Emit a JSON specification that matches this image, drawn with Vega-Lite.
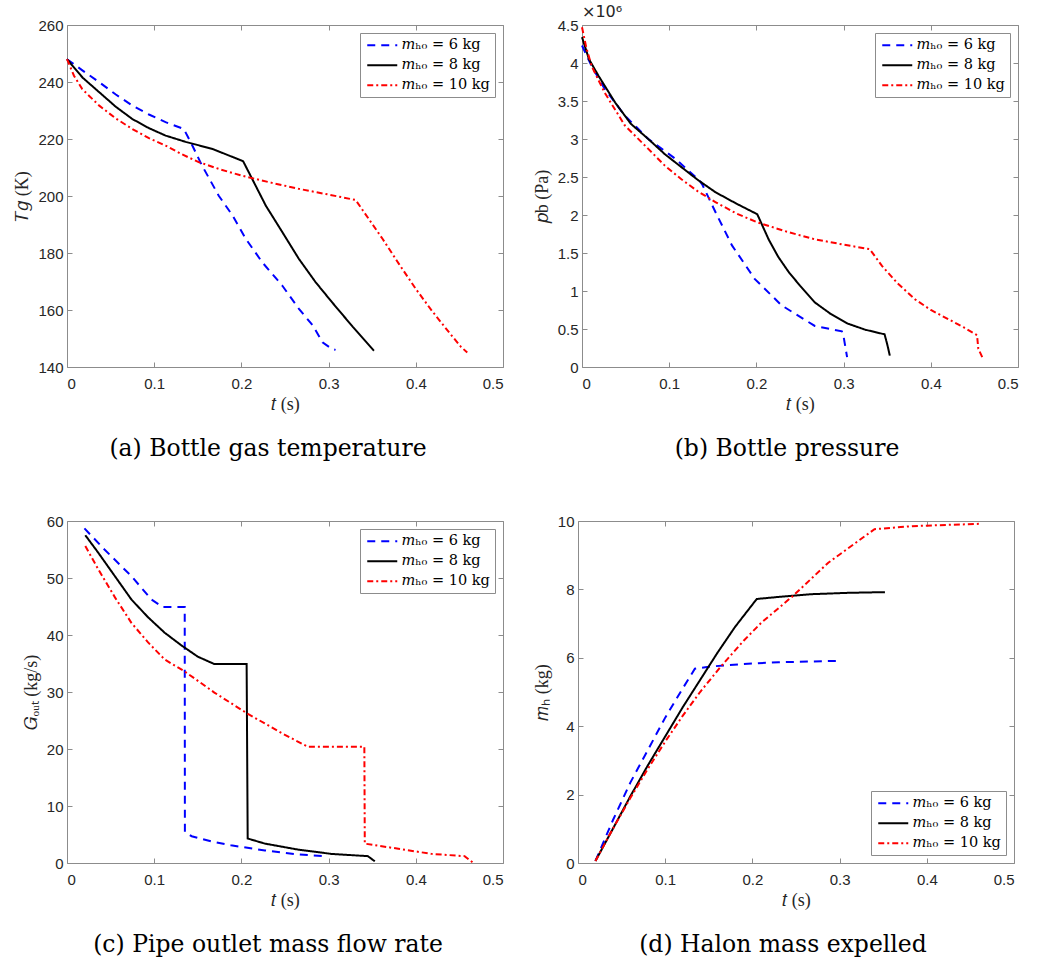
{
  "$schema": "https://vega.github.io/schema/vega-lite/v6.json",
  "background": "white",
  "padding": {"left": 13, "top": 3, "right": 5, "bottom": 5},
  "config": {
    "view": {"stroke": "#8c8c8c", "strokeWidth": 1},
    "axis": {"domain": false, "grid": false, "labelFont": "Liberation Sans", "labelFontSize": 15, "labelColor": "#262626", "tickColor": "#8c8c8c", "tickSize": -5, "tickWidth": 1, "titleFont": "Liberation Serif", "titleFontWeight": "normal", "titleFontSize": 18, "titleColor": "#262626"},
    "axisX": {"labelPadding": 14, "titlePadding": 4},
    "axisY": {"labelPadding": 9, "titlePadding": 6},
    "legend": {"title": null, "offset": 8, "strokeColor": "#8c8c8c", "fillColor": "white", "padding": 5, "symbolType": "M-1,0H5", "symbolSize": 100, "symbolStrokeWidth": 2, "labelFont": "DejaVu Serif", "labelFontSize": 14.5, "labelColor": "#000000", "rowPadding": 5, "labelOffset": 22},
    "title": {"font": "DejaVu Serif", "fontSize": 23.5, "fontWeight": "normal", "color": "#000000", "orient": "bottom", "offset": 24}
  },
  "datasets": {
    "a": [
      {"m": "6 kg", "i": 0, "t": 0, "T": 248}, {"m": "6 kg", "i": 1, "t": 0.018, "T": 244}, {"m": "6 kg", "i": 2, "t": 0.037, "T": 239.9}, {"m": "6 kg", "i": 3, "t": 0.056, "T": 235.6}, {"m": "6 kg", "i": 4, "t": 0.075, "T": 231.7}, {"m": "6 kg", "i": 5, "t": 0.094, "T": 228.6}, {"m": "6 kg", "i": 6, "t": 0.113, "T": 225.9}, {"m": "6 kg", "i": 7, "t": 0.134, "T": 223.5}, {"m": "6 kg", "i": 8, "t": 0.142, "T": 218.8}, {"m": "6 kg", "i": 9, "t": 0.155, "T": 210.6}, {"m": "6 kg", "i": 10, "t": 0.174, "T": 200.1}, {"m": "6 kg", "i": 11, "t": 0.19, "T": 193.1}, {"m": "6 kg", "i": 12, "t": 0.205, "T": 185}, {"m": "6 kg", "i": 13, "t": 0.224, "T": 176.7}, {"m": "6 kg", "i": 14, "t": 0.247, "T": 168.5}, {"m": "6 kg", "i": 15, "t": 0.266, "T": 160.4}, {"m": "6 kg", "i": 16, "t": 0.282, "T": 154.5}, {"m": "6 kg", "i": 17, "t": 0.293, "T": 148.7}, {"m": "6 kg", "i": 18, "t": 0.304, "T": 146.3}, {"m": "6 kg", "i": 19, "t": 0.308, "T": 146},
      {"m": "8 kg", "i": 0, "t": 0, "T": 248}, {"m": "8 kg", "i": 1, "t": 0.018, "T": 241.5}, {"m": "8 kg", "i": 2, "t": 0.037, "T": 236.4}, {"m": "8 kg", "i": 3, "t": 0.056, "T": 231.3}, {"m": "8 kg", "i": 4, "t": 0.075, "T": 227}, {"m": "8 kg", "i": 5, "t": 0.094, "T": 223.8}, {"m": "8 kg", "i": 6, "t": 0.113, "T": 221.2}, {"m": "8 kg", "i": 7, "t": 0.136, "T": 219}, {"m": "8 kg", "i": 8, "t": 0.167, "T": 216.5}, {"m": "8 kg", "i": 9, "t": 0.202, "T": 212.2}, {"m": "8 kg", "i": 10, "t": 0.228, "T": 196.6}, {"m": "8 kg", "i": 11, "t": 0.247, "T": 187.3}, {"m": "8 kg", "i": 12, "t": 0.266, "T": 177.9}, {"m": "8 kg", "i": 13, "t": 0.285, "T": 169.8}, {"m": "8 kg", "i": 14, "t": 0.304, "T": 162.7}, {"m": "8 kg", "i": 15, "t": 0.328, "T": 154}, {"m": "8 kg", "i": 16, "t": 0.352, "T": 145.7},
      {"m": "10 kg", "i": 0, "t": 0, "T": 248}, {"m": "10 kg", "i": 1, "t": 0.008, "T": 242.2}, {"m": "10 kg", "i": 2, "t": 0.0175, "T": 237.5}, {"m": "10 kg", "i": 3, "t": 0.037, "T": 231.7}, {"m": "10 kg", "i": 4, "t": 0.056, "T": 227.2}, {"m": "10 kg", "i": 5, "t": 0.075, "T": 223.5}, {"m": "10 kg", "i": 6, "t": 0.094, "T": 220.3}, {"m": "10 kg", "i": 7, "t": 0.113, "T": 217.7}, {"m": "10 kg", "i": 8, "t": 0.132, "T": 214.6}, {"m": "10 kg", "i": 9, "t": 0.151, "T": 211.9}, {"m": "10 kg", "i": 10, "t": 0.175, "T": 209.4}, {"m": "10 kg", "i": 11, "t": 0.201, "T": 207.1}, {"m": "10 kg", "i": 12, "t": 0.235, "T": 204.6}, {"m": "10 kg", "i": 13, "t": 0.266, "T": 202.5}, {"m": "10 kg", "i": 14, "t": 0.3, "T": 200.5}, {"m": "10 kg", "i": 15, "t": 0.331, "T": 198.6}, {"m": "10 kg", "i": 16, "t": 0.362, "T": 184.9}, {"m": "10 kg", "i": 17, "t": 0.381, "T": 176}, {"m": "10 kg", "i": 18, "t": 0.4, "T": 167.4}, {"m": "10 kg", "i": 19, "t": 0.419, "T": 159.5}, {"m": "10 kg", "i": 20, "t": 0.438, "T": 152.2}, {"m": "10 kg", "i": 21, "t": 0.452, "T": 147}, {"m": "10 kg", "i": 22, "t": 0.459, "T": 145.1}
    ],
    "b": [
      {"m": "6 kg", "i": 0, "t": 0, "p": 4230000}, {"m": "6 kg", "i": 1, "t": 0.011, "p": 3960000}, {"m": "6 kg", "i": 2, "t": 0.026, "p": 3660000}, {"m": "6 kg", "i": 3, "t": 0.049, "p": 3310000}, {"m": "6 kg", "i": 4, "t": 0.076, "p": 3000000}, {"m": "6 kg", "i": 5, "t": 0.107, "p": 2740000}, {"m": "6 kg", "i": 6, "t": 0.135, "p": 2450000}, {"m": "6 kg", "i": 7, "t": 0.138, "p": 2400000}, {"m": "6 kg", "i": 8, "t": 0.153, "p": 2040000}, {"m": "6 kg", "i": 9, "t": 0.172, "p": 1600000}, {"m": "6 kg", "i": 10, "t": 0.198, "p": 1160000}, {"m": "6 kg", "i": 11, "t": 0.229, "p": 810000}, {"m": "6 kg", "i": 12, "t": 0.267, "p": 540000}, {"m": "6 kg", "i": 13, "t": 0.298, "p": 470000}, {"m": "6 kg", "i": 14, "t": 0.3, "p": 400000}, {"m": "6 kg", "i": 15, "t": 0.304, "p": 130000},
      {"m": "8 kg", "i": 0, "t": 0, "p": 4340000}, {"m": "8 kg", "i": 1, "t": 0.008, "p": 4050000}, {"m": "8 kg", "i": 2, "t": 0.019, "p": 3830000}, {"m": "8 kg", "i": 3, "t": 0.038, "p": 3480000}, {"m": "8 kg", "i": 4, "t": 0.056, "p": 3200000}, {"m": "8 kg", "i": 5, "t": 0.076, "p": 3000000}, {"m": "8 kg", "i": 6, "t": 0.095, "p": 2800000}, {"m": "8 kg", "i": 7, "t": 0.114, "p": 2630000}, {"m": "8 kg", "i": 8, "t": 0.133, "p": 2460000}, {"m": "8 kg", "i": 9, "t": 0.153, "p": 2300000}, {"m": "8 kg", "i": 10, "t": 0.177, "p": 2150000}, {"m": "8 kg", "i": 11, "t": 0.201, "p": 2010000}, {"m": "8 kg", "i": 12, "t": 0.214, "p": 1680000}, {"m": "8 kg", "i": 13, "t": 0.225, "p": 1450000}, {"m": "8 kg", "i": 14, "t": 0.237, "p": 1250000}, {"m": "8 kg", "i": 15, "t": 0.25, "p": 1070000}, {"m": "8 kg", "i": 16, "t": 0.267, "p": 850000}, {"m": "8 kg", "i": 17, "t": 0.285, "p": 700000}, {"m": "8 kg", "i": 18, "t": 0.305, "p": 570000}, {"m": "8 kg", "i": 19, "t": 0.325, "p": 490000}, {"m": "8 kg", "i": 20, "t": 0.347, "p": 430000}, {"m": "8 kg", "i": 21, "t": 0.35, "p": 300000}, {"m": "8 kg", "i": 22, "t": 0.353, "p": 150000},
      {"m": "10 kg", "i": 0, "t": 0, "p": 4470000}, {"m": "10 kg", "i": 1, "t": 0.005, "p": 4200000}, {"m": "10 kg", "i": 2, "t": 0.011, "p": 3960000}, {"m": "10 kg", "i": 3, "t": 0.026, "p": 3610000}, {"m": "10 kg", "i": 4, "t": 0.049, "p": 3180000}, {"m": "10 kg", "i": 5, "t": 0.076, "p": 2870000}, {"m": "10 kg", "i": 6, "t": 0.095, "p": 2650000}, {"m": "10 kg", "i": 7, "t": 0.114, "p": 2470000}, {"m": "10 kg", "i": 8, "t": 0.133, "p": 2310000}, {"m": "10 kg", "i": 9, "t": 0.153, "p": 2170000}, {"m": "10 kg", "i": 10, "t": 0.177, "p": 2020000}, {"m": "10 kg", "i": 11, "t": 0.202, "p": 1900000}, {"m": "10 kg", "i": 12, "t": 0.235, "p": 1780000}, {"m": "10 kg", "i": 13, "t": 0.267, "p": 1680000}, {"m": "10 kg", "i": 14, "t": 0.3, "p": 1610000}, {"m": "10 kg", "i": 15, "t": 0.33, "p": 1550000}, {"m": "10 kg", "i": 16, "t": 0.344, "p": 1330000}, {"m": "10 kg", "i": 17, "t": 0.362, "p": 1100000}, {"m": "10 kg", "i": 18, "t": 0.382, "p": 890000}, {"m": "10 kg", "i": 19, "t": 0.4, "p": 750000}, {"m": "10 kg", "i": 20, "t": 0.42, "p": 630000}, {"m": "10 kg", "i": 21, "t": 0.438, "p": 520000}, {"m": "10 kg", "i": 22, "t": 0.453, "p": 420000}, {"m": "10 kg", "i": 23, "t": 0.4545, "p": 240000}, {"m": "10 kg", "i": 24, "t": 0.46, "p": 105000}
    ],
    "c": [
      {"m": "6 kg", "i": 0, "t": 0.02, "G": 58.7}, {"m": "6 kg", "i": 1, "t": 0.043, "G": 55}, {"m": "6 kg", "i": 2, "t": 0.074, "G": 50.3}, {"m": "6 kg", "i": 3, "t": 0.097, "G": 46.2}, {"m": "6 kg", "i": 4, "t": 0.11, "G": 44.9}, {"m": "6 kg", "i": 5, "t": 0.135, "G": 44.9}, {"m": "6 kg", "i": 6, "t": 0.1352, "G": 5.45}, {"m": "6 kg", "i": 7, "t": 0.143, "G": 4.7}, {"m": "6 kg", "i": 8, "t": 0.165, "G": 3.8}, {"m": "6 kg", "i": 9, "t": 0.188, "G": 3.1}, {"m": "6 kg", "i": 10, "t": 0.227, "G": 2.2}, {"m": "6 kg", "i": 11, "t": 0.265, "G": 1.5}, {"m": "6 kg", "i": 12, "t": 0.297, "G": 1.2},
      {"m": "8 kg", "i": 0, "t": 0.021, "G": 57.5}, {"m": "8 kg", "i": 1, "t": 0.036, "G": 54.4}, {"m": "8 kg", "i": 2, "t": 0.055, "G": 50.3}, {"m": "8 kg", "i": 3, "t": 0.074, "G": 46.2}, {"m": "8 kg", "i": 4, "t": 0.093, "G": 43.1}, {"m": "8 kg", "i": 5, "t": 0.112, "G": 40.4}, {"m": "8 kg", "i": 6, "t": 0.131, "G": 38.2}, {"m": "8 kg", "i": 7, "t": 0.15, "G": 36.2}, {"m": "8 kg", "i": 8, "t": 0.169, "G": 34.9}, {"m": "8 kg", "i": 9, "t": 0.206, "G": 34.9}, {"m": "8 kg", "i": 10, "t": 0.2072, "G": 4.3}, {"m": "8 kg", "i": 11, "t": 0.227, "G": 3.4}, {"m": "8 kg", "i": 12, "t": 0.265, "G": 2.35}, {"m": "8 kg", "i": 13, "t": 0.303, "G": 1.6}, {"m": "8 kg", "i": 14, "t": 0.345, "G": 1.2}, {"m": "8 kg", "i": 15, "t": 0.353, "G": 0.3},
      {"m": "10 kg", "i": 0, "t": 0.021, "G": 55.6}, {"m": "10 kg", "i": 1, "t": 0.036, "G": 51.5}, {"m": "10 kg", "i": 2, "t": 0.055, "G": 46.6}, {"m": "10 kg", "i": 3, "t": 0.074, "G": 42.1}, {"m": "10 kg", "i": 4, "t": 0.093, "G": 38.7}, {"m": "10 kg", "i": 5, "t": 0.112, "G": 35.7}, {"m": "10 kg", "i": 6, "t": 0.135, "G": 33.6}, {"m": "10 kg", "i": 7, "t": 0.169, "G": 29.9}, {"m": "10 kg", "i": 8, "t": 0.206, "G": 26.3}, {"m": "10 kg", "i": 9, "t": 0.246, "G": 22.8}, {"m": "10 kg", "i": 10, "t": 0.276, "G": 20.4}, {"m": "10 kg", "i": 11, "t": 0.341, "G": 20.4}, {"m": "10 kg", "i": 12, "t": 0.3415, "G": 3.4}, {"m": "10 kg", "i": 13, "t": 0.38, "G": 2.5}, {"m": "10 kg", "i": 14, "t": 0.418, "G": 1.6}, {"m": "10 kg", "i": 15, "t": 0.456, "G": 1.2}, {"m": "10 kg", "i": 16, "t": 0.466, "G": 0}
    ],
    "d": [
      {"m": "6 kg", "i": 0, "t": 0.02, "mh": 0.06}, {"m": "6 kg", "i": 1, "t": 0.04, "mh": 1.25}, {"m": "6 kg", "i": 2, "t": 0.06, "mh": 2.35}, {"m": "6 kg", "i": 3, "t": 0.08, "mh": 3.3}, {"m": "6 kg", "i": 4, "t": 0.1, "mh": 4.25}, {"m": "6 kg", "i": 5, "t": 0.12, "mh": 5.1}, {"m": "6 kg", "i": 6, "t": 0.134, "mh": 5.68}, {"m": "6 kg", "i": 7, "t": 0.15, "mh": 5.74}, {"m": "6 kg", "i": 8, "t": 0.19, "mh": 5.82}, {"m": "6 kg", "i": 9, "t": 0.23, "mh": 5.87}, {"m": "6 kg", "i": 10, "t": 0.298, "mh": 5.91},
      {"m": "8 kg", "i": 0, "t": 0.02, "mh": 0.06}, {"m": "8 kg", "i": 1, "t": 0.04, "mh": 1.0}, {"m": "8 kg", "i": 2, "t": 0.06, "mh": 1.95}, {"m": "8 kg", "i": 3, "t": 0.08, "mh": 2.85}, {"m": "8 kg", "i": 4, "t": 0.1, "mh": 3.7}, {"m": "8 kg", "i": 5, "t": 0.12, "mh": 4.55}, {"m": "8 kg", "i": 6, "t": 0.14, "mh": 5.35}, {"m": "8 kg", "i": 7, "t": 0.16, "mh": 6.15}, {"m": "8 kg", "i": 8, "t": 0.18, "mh": 6.9}, {"m": "8 kg", "i": 9, "t": 0.205, "mh": 7.72}, {"m": "8 kg", "i": 10, "t": 0.23, "mh": 7.78}, {"m": "8 kg", "i": 11, "t": 0.268, "mh": 7.86}, {"m": "8 kg", "i": 12, "t": 0.31, "mh": 7.9}, {"m": "8 kg", "i": 13, "t": 0.352, "mh": 7.92},
      {"m": "10 kg", "i": 0, "t": 0.02, "mh": 0.06}, {"m": "10 kg", "i": 1, "t": 0.04, "mh": 1.0}, {"m": "10 kg", "i": 2, "t": 0.06, "mh": 1.9}, {"m": "10 kg", "i": 3, "t": 0.08, "mh": 2.75}, {"m": "10 kg", "i": 4, "t": 0.1, "mh": 3.55}, {"m": "10 kg", "i": 5, "t": 0.12, "mh": 4.3}, {"m": "10 kg", "i": 6, "t": 0.14, "mh": 5.0}, {"m": "10 kg", "i": 7, "t": 0.164, "mh": 5.75}, {"m": "10 kg", "i": 8, "t": 0.19, "mh": 6.5}, {"m": "10 kg", "i": 9, "t": 0.21, "mh": 7.02}, {"m": "10 kg", "i": 10, "t": 0.247, "mh": 7.82}, {"m": "10 kg", "i": 11, "t": 0.287, "mh": 8.78}, {"m": "10 kg", "i": 12, "t": 0.34, "mh": 9.76}, {"m": "10 kg", "i": 13, "t": 0.383, "mh": 9.85}, {"m": "10 kg", "i": 14, "t": 0.463, "mh": 9.92}
    ]
  },
  "vconcat": [
    {
      "hconcat": [
        {
          "width": 436, "height": 342,
          "title": {"text": "(a) Bottle gas temperature", "dx": -17},
          "data": {"name": "a"},
          "layer": [
            {
              "mark": {"type": "line", "strokeWidth": 2},
              "encoding": {
                "x": {"field": "t", "type": "quantitative", "scale": {"domain": [0, 0.5], "nice": false, "zero": false}, "axis": {"orient": "bottom", "values": [0, 0.1, 0.2, 0.3, 0.4, 0.5], "format": "~g", "title": "𝑡 (s)"}},
                "y": {"field": "T", "type": "quantitative", "scale": {"domain": [140, 260], "nice": false, "zero": false}, "axis": {"orient": "left", "values": [140, 160, 180, 200, 220, 240, 260], "title": "𝑇𝑔 (K)"}},
                "order": {"field": "i", "type": "quantitative"},
                "color": {"field": "m", "type": "nominal", "scale": {"domain": ["6 kg", "8 kg", "10 kg"], "range": ["#0000ff", "#000000", "#ff0000"]}, "legend": {"orient": "top-right", "labelExpr": "'𝑚ₕ₀ = ' + datum.label"}},
                "strokeDash": {"field": "m", "type": "nominal", "scale": {"domain": ["6 kg", "8 kg", "10 kg"], "range": [[8, 6], [1, 0], [6, 3, 2, 3]]}, "legend": {"orient": "top-right", "labelExpr": "'𝑚ₕ₀ = ' + datum.label"}}
              }
            },
            {
              "mark": {"type": "line", "opacity": 0},
              "encoding": {
                "x": {"field": "t", "type": "quantitative", "scale": {"domain": [0, 0.5], "nice": false, "zero": false}, "axis": {"orient": "top", "values": [0, 0.1, 0.2, 0.3, 0.4, 0.5], "labels": false, "title": null}},
                "y": {"field": "T", "type": "quantitative", "scale": {"domain": [140, 260], "nice": false, "zero": false}, "axis": {"orient": "right", "values": [140, 160, 180, 200, 220, 240, 260], "labels": false, "title": null}},
                "detail": {"field": "m"}
              }
            }
          ],
          "resolve": {"axis": {"x": "independent", "y": "independent"}}
        },
        {
          "width": 436, "height": 342,
          "title": {"text": "(b) Bottle pressure", "dx": -13},
          "data": {"name": "b"},
          "layer": [
            {
              "mark": {"type": "line", "strokeWidth": 2},
              "encoding": {
                "x": {"field": "t", "type": "quantitative", "scale": {"domain": [0, 0.5], "nice": false, "zero": false}, "axis": {"orient": "bottom", "values": [0, 0.1, 0.2, 0.3, 0.4, 0.5], "format": "~g", "title": "𝑡 (s)"}},
                "y": {"field": "p", "type": "quantitative", "scale": {"domain": [0, 4500000], "nice": false, "zero": false}, "axis": {"orient": "left", "values": [0, 500000, 1000000, 1500000, 2000000, 2500000, 3000000, 3500000, 4000000, 4500000], "labelExpr": "datum.value / 1000000 + ''", "title": "𝑝b (Pa)"}},
                "order": {"field": "i", "type": "quantitative"},
                "color": {"field": "m", "type": "nominal", "scale": {"domain": ["6 kg", "8 kg", "10 kg"], "range": ["#0000ff", "#000000", "#ff0000"]}, "legend": {"orient": "top-right", "labelExpr": "'𝑚ₕ₀ = ' + datum.label"}},
                "strokeDash": {"field": "m", "type": "nominal", "scale": {"domain": ["6 kg", "8 kg", "10 kg"], "range": [[8, 6], [1, 0], [6, 3, 2, 3]]}, "legend": {"orient": "top-right", "labelExpr": "'𝑚ₕ₀ = ' + datum.label"}}
              }
            },
            {
              "mark": {"type": "line", "opacity": 0},
              "encoding": {
                "x": {"field": "t", "type": "quantitative", "scale": {"domain": [0, 0.5], "nice": false, "zero": false}, "axis": {"orient": "top", "values": [0, 0.1, 0.2, 0.3, 0.4, 0.5], "labels": false, "title": null}},
                "y": {"field": "p", "type": "quantitative", "scale": {"domain": [0, 4500000], "nice": false, "zero": false}, "axis": {"orient": "right", "values": [0, 500000, 1000000, 1500000, 2000000, 2500000, 3000000, 3500000, 4000000, 4500000], "labels": false, "title": null}},
                "detail": {"field": "m"}
              }
            },
            {
              "data": {"values": [{"t": 0, "p": 4500000, "s": "×10⁶"}]},
              "mark": {"type": "text", "align": "left", "baseline": "bottom", "dx": 0, "dy": -5, "font": "DejaVu Sans", "fontSize": 16, "color": "#262626"},
              "encoding": {
                "x": {"field": "t", "type": "quantitative", "axis": null},
                "y": {"field": "p", "type": "quantitative", "axis": null},
                "text": {"field": "s"}
              }
            }
          ],
          "resolve": {"axis": {"x": "independent", "y": "independent"}}
        }
      ],
      "spacing": 28,
      "resolve": {"scale": {"color": "independent", "strokeDash": "independent"}, "legend": {"color": "independent", "strokeDash": "independent"}}
    },
    {
      "hconcat": [
        {
          "width": 436, "height": 342,
          "title": {"text": "(c) Pipe outlet mass flow rate", "dx": -17},
          "data": {"name": "c"},
          "layer": [
            {
              "mark": {"type": "line", "strokeWidth": 2},
              "encoding": {
                "x": {"field": "t", "type": "quantitative", "scale": {"domain": [0, 0.5], "nice": false, "zero": false}, "axis": {"orient": "bottom", "values": [0, 0.1, 0.2, 0.3, 0.4, 0.5], "format": "~g", "title": "𝑡 (s)"}},
                "y": {"field": "G", "type": "quantitative", "scale": {"domain": [0, 60], "nice": false, "zero": false}, "axis": {"orient": "left", "values": [0, 10, 20, 30, 40, 50, 60], "title": "𝐺ₒᵤₜ (kg/s)"}},
                "order": {"field": "i", "type": "quantitative"},
                "color": {"field": "m", "type": "nominal", "scale": {"domain": ["6 kg", "8 kg", "10 kg"], "range": ["#0000ff", "#000000", "#ff0000"]}, "legend": {"orient": "top-right", "labelExpr": "'𝑚ₕ₀ = ' + datum.label"}},
                "strokeDash": {"field": "m", "type": "nominal", "scale": {"domain": ["6 kg", "8 kg", "10 kg"], "range": [[8, 6], [1, 0], [6, 3, 2, 3]]}, "legend": {"orient": "top-right", "labelExpr": "'𝑚ₕ₀ = ' + datum.label"}}
              }
            },
            {
              "mark": {"type": "line", "opacity": 0},
              "encoding": {
                "x": {"field": "t", "type": "quantitative", "scale": {"domain": [0, 0.5], "nice": false, "zero": false}, "axis": {"orient": "top", "values": [0, 0.1, 0.2, 0.3, 0.4, 0.5], "labels": false, "title": null}},
                "y": {"field": "G", "type": "quantitative", "scale": {"domain": [0, 60], "nice": false, "zero": false}, "axis": {"orient": "right", "values": [0, 10, 20, 30, 40, 50, 60], "labels": false, "title": null}},
                "detail": {"field": "m"}
              }
            }
          ],
          "resolve": {"axis": {"x": "independent", "y": "independent"}}
        },
        {
          "width": 436, "height": 342,
          "title": {"text": "(d) Halon mass expelled", "dx": -13},
          "data": {"name": "d"},
          "layer": [
            {
              "mark": {"type": "line", "strokeWidth": 2},
              "encoding": {
                "x": {"field": "t", "type": "quantitative", "scale": {"domain": [0, 0.5], "nice": false, "zero": false}, "axis": {"orient": "bottom", "values": [0, 0.1, 0.2, 0.3, 0.4, 0.5], "format": "~g", "title": "𝑡 (s)"}},
                "y": {"field": "mh", "type": "quantitative", "scale": {"domain": [0, 10], "nice": false, "zero": false}, "axis": {"orient": "left", "values": [0, 2, 4, 6, 8, 10], "title": "𝑚ₕ (kg)"}},
                "order": {"field": "i", "type": "quantitative"},
                "color": {"field": "m", "type": "nominal", "scale": {"domain": ["6 kg", "8 kg", "10 kg"], "range": ["#0000ff", "#000000", "#ff0000"]}, "legend": {"orient": "bottom-right", "labelExpr": "'𝑚ₕ₀ = ' + datum.label"}},
                "strokeDash": {"field": "m", "type": "nominal", "scale": {"domain": ["6 kg", "8 kg", "10 kg"], "range": [[8, 6], [1, 0], [6, 3, 2, 3]]}, "legend": {"orient": "bottom-right", "labelExpr": "'𝑚ₕ₀ = ' + datum.label"}}
              }
            },
            {
              "mark": {"type": "line", "opacity": 0},
              "encoding": {
                "x": {"field": "t", "type": "quantitative", "scale": {"domain": [0, 0.5], "nice": false, "zero": false}, "axis": {"orient": "top", "values": [0, 0.1, 0.2, 0.3, 0.4, 0.5], "labels": false, "title": null}},
                "y": {"field": "mh", "type": "quantitative", "scale": {"domain": [0, 10], "nice": false, "zero": false}, "axis": {"orient": "right", "values": [0, 2, 4, 6, 8, 10], "labels": false, "title": null}},
                "detail": {"field": "m"}
              }
            }
          ],
          "resolve": {"axis": {"x": "independent", "y": "independent"}}
        }
      ],
      "spacing": 28,
      "resolve": {"scale": {"color": "independent", "strokeDash": "independent"}, "legend": {"color": "independent", "strokeDash": "independent"}}
    }
  ],
  "spacing": 52,
  "resolve": {"scale": {"color": "independent", "strokeDash": "independent"}, "legend": {"color": "independent", "strokeDash": "independent"}}
}
